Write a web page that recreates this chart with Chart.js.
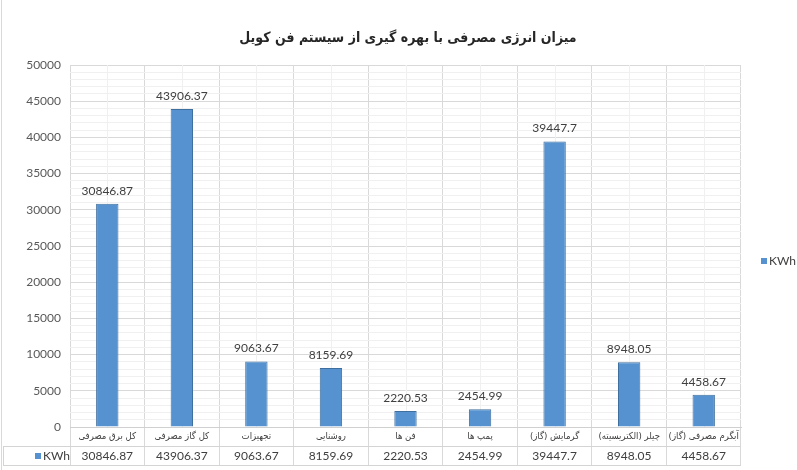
<!DOCTYPE html>
<html>
<head>
<meta charset="utf-8">
<script src="https://cdn.jsdelivr.net/npm/chart.js@4.4.1/dist/chart.umd.min.js"></script>
<style>
  html, body { margin: 0; padding: 0; background: #fff; }
  #wrap { width: 797px; height: 470px; position: relative; }
</style>
</head>
<body>
<div id="wrap"><canvas id="chart"></canvas></div>
<script>
const titleText = "میزان انرژی مصرفی با بهره گیری از سیستم فن کویل";
const categories = [
  "کل برق مصرفی",
  "کل گاز مصرفی",
  "تجهیزات",
  "روشنایی",
  "فن ها",
  "پمپ ها",
  "گرمایش (گاز)",
  "چیلر (الکتریسیته)",
  "آبگرم مصرفی (گاز)"
];
const kwhValues = [30846.87, 43906.37, 9063.67, 8159.69, 2220.53, 2454.99, 39447.7, 8948.05, 4458.67];
const seriesLabel = "KWh";
const yMin = 0;
const yMax = 50000;
const yMajorStep = 5000;
const yMinorStep = 1000;

const barFill = "#5592cf";
const barEdge = "#3f6f9e";
const textColor = "#404040";
const latin = "Lato, 'Liberation Sans', sans-serif";
const persian = "'DejaVu Sans Condensed', 'DejaVu Sans', sans-serif";

const tablePlugin = {
  id: "tablePlugin",
  beforeDatasetsDraw(chart) {
    // faint lines through the category centres
    const { ctx, chartArea, scales: { x } } = chart;
    ctx.save();
    ctx.strokeStyle = "#f0f0f0";
    ctx.lineWidth = 1;
    categories.forEach((c, i) => {
      const px = Math.round(x.getPixelForValue(i)) + 0.5;
      ctx.beginPath();
      ctx.moveTo(px, chartArea.top);
      ctx.lineTo(px, chartArea.bottom);
      ctx.stroke();
    });
    ctx.restore();
  },
  afterDraw(chart) {
    const { ctx, chartArea, scales: { x } } = chart;
    const meta = chart.getDatasetMeta(0);
    const rowMid = chartArea.bottom + 19;
    const rowEnd = chartArea.bottom + 38;

    ctx.save();

    // value labels above bars
    ctx.fillStyle = textColor;
    ctx.font = "12px " + latin;
    ctx.textAlign = "center";
    ctx.textBaseline = "middle";
    meta.data.forEach((bar, i) => {
      ctx.fillText(String(kwhValues[i]), bar.x, bar.y - 13);
    });

    // table lines
    ctx.strokeStyle = "#d4d4d4";
    ctx.lineWidth = 1;
    ctx.beginPath();
    ctx.moveTo(3, rowMid + 0.5);
    ctx.lineTo(chartArea.right, rowMid + 0.5);
    ctx.moveTo(3, rowEnd + 0.5);
    ctx.lineTo(chartArea.right, rowEnd + 0.5);
    ctx.moveTo(3.5, rowMid);
    ctx.lineTo(3.5, rowEnd);
    ctx.stroke();

    // chart frame edge on the left
    ctx.strokeStyle = "#d9d9d9";
    ctx.beginPath();
    ctx.moveTo(1.5, 0);
    ctx.lineTo(1.5, chart.height);
    ctx.stroke();

    // category row
    ctx.fillStyle = textColor;
    ctx.font = "9.5px " + persian;
    ctx.direction = "rtl";
    categories.forEach((c, i) => {
      ctx.fillText(c, x.getPixelForValue(i), chartArea.bottom + 10);
    });

    // value row
    ctx.direction = "ltr";
    ctx.font = "12px " + latin;
    kwhValues.forEach((v, i) => {
      ctx.fillText(String(v), x.getPixelForValue(i), rowMid + 10);
    });

    // legend key in table
    ctx.fillStyle = barFill;
    ctx.fillRect(35, rowMid + 7, 6, 6);
    ctx.fillStyle = textColor;
    ctx.textAlign = "left";
    ctx.fillText(seriesLabel, 43, rowMid + 10);

    // legend on the right
    ctx.fillStyle = barFill;
    ctx.fillRect(761, 258, 6, 6);
    ctx.fillStyle = textColor;
    ctx.fillText(seriesLabel, 769, 261);

    // title
    ctx.fillStyle = "#262626";
    ctx.font = "bold 14px " + persian;
    ctx.textAlign = "center";
    ctx.direction = "rtl";
    ctx.fillText(titleText, 408, 38);

    ctx.restore();
  }
};

new Chart(document.getElementById("chart"), {
  type: "bar",
  data: {
    labels: categories,
    datasets: [{
      label: seriesLabel,
      data: kwhValues,
      backgroundColor: barFill,
      borderColor: barEdge,
      borderWidth: 1,
      barPercentage: 0.3,
      categoryPercentage: 1
    }]
  },
  options: {
    responsive: true,
    maintainAspectRatio: false,
    animation: false,
    layout: { padding: { top: 65, right: 56, left: 0, bottom: 0 } },
    plugins: {
      legend: { display: false },
      title: { display: false },
      tooltip: { enabled: false }
    },
    scales: {
      x: {
        offset: true,
        ticks: { display: false },
        grid: { color: "#d9d9d9", offset: true, drawTicks: true, tickLength: 38 },
        border: { display: true, color: "#d0d0d0" },
        afterFit(scale) { scale.height = 43; }
      },
      y: {
        min: yMin,
        max: yMax,
        ticks: {
          stepSize: yMinorStep,
          autoSkip: false,
          padding: 9,
          color: "#595959",
          font: { family: latin, size: 12 },
          callback: v => (v % yMajorStep === 0 ? String(v) : "")
        },
        grid: {
          drawTicks: false,
          color: c => (c.tick && c.tick.value % yMajorStep === 0 ? "#d9d9d9" : "#f0f0f0")
        },
        border: { display: false },
        afterFit(scale) { scale.width = 70; }
      }
    }
  },
  plugins: [tablePlugin]
});
</script>
</body>
</html>
